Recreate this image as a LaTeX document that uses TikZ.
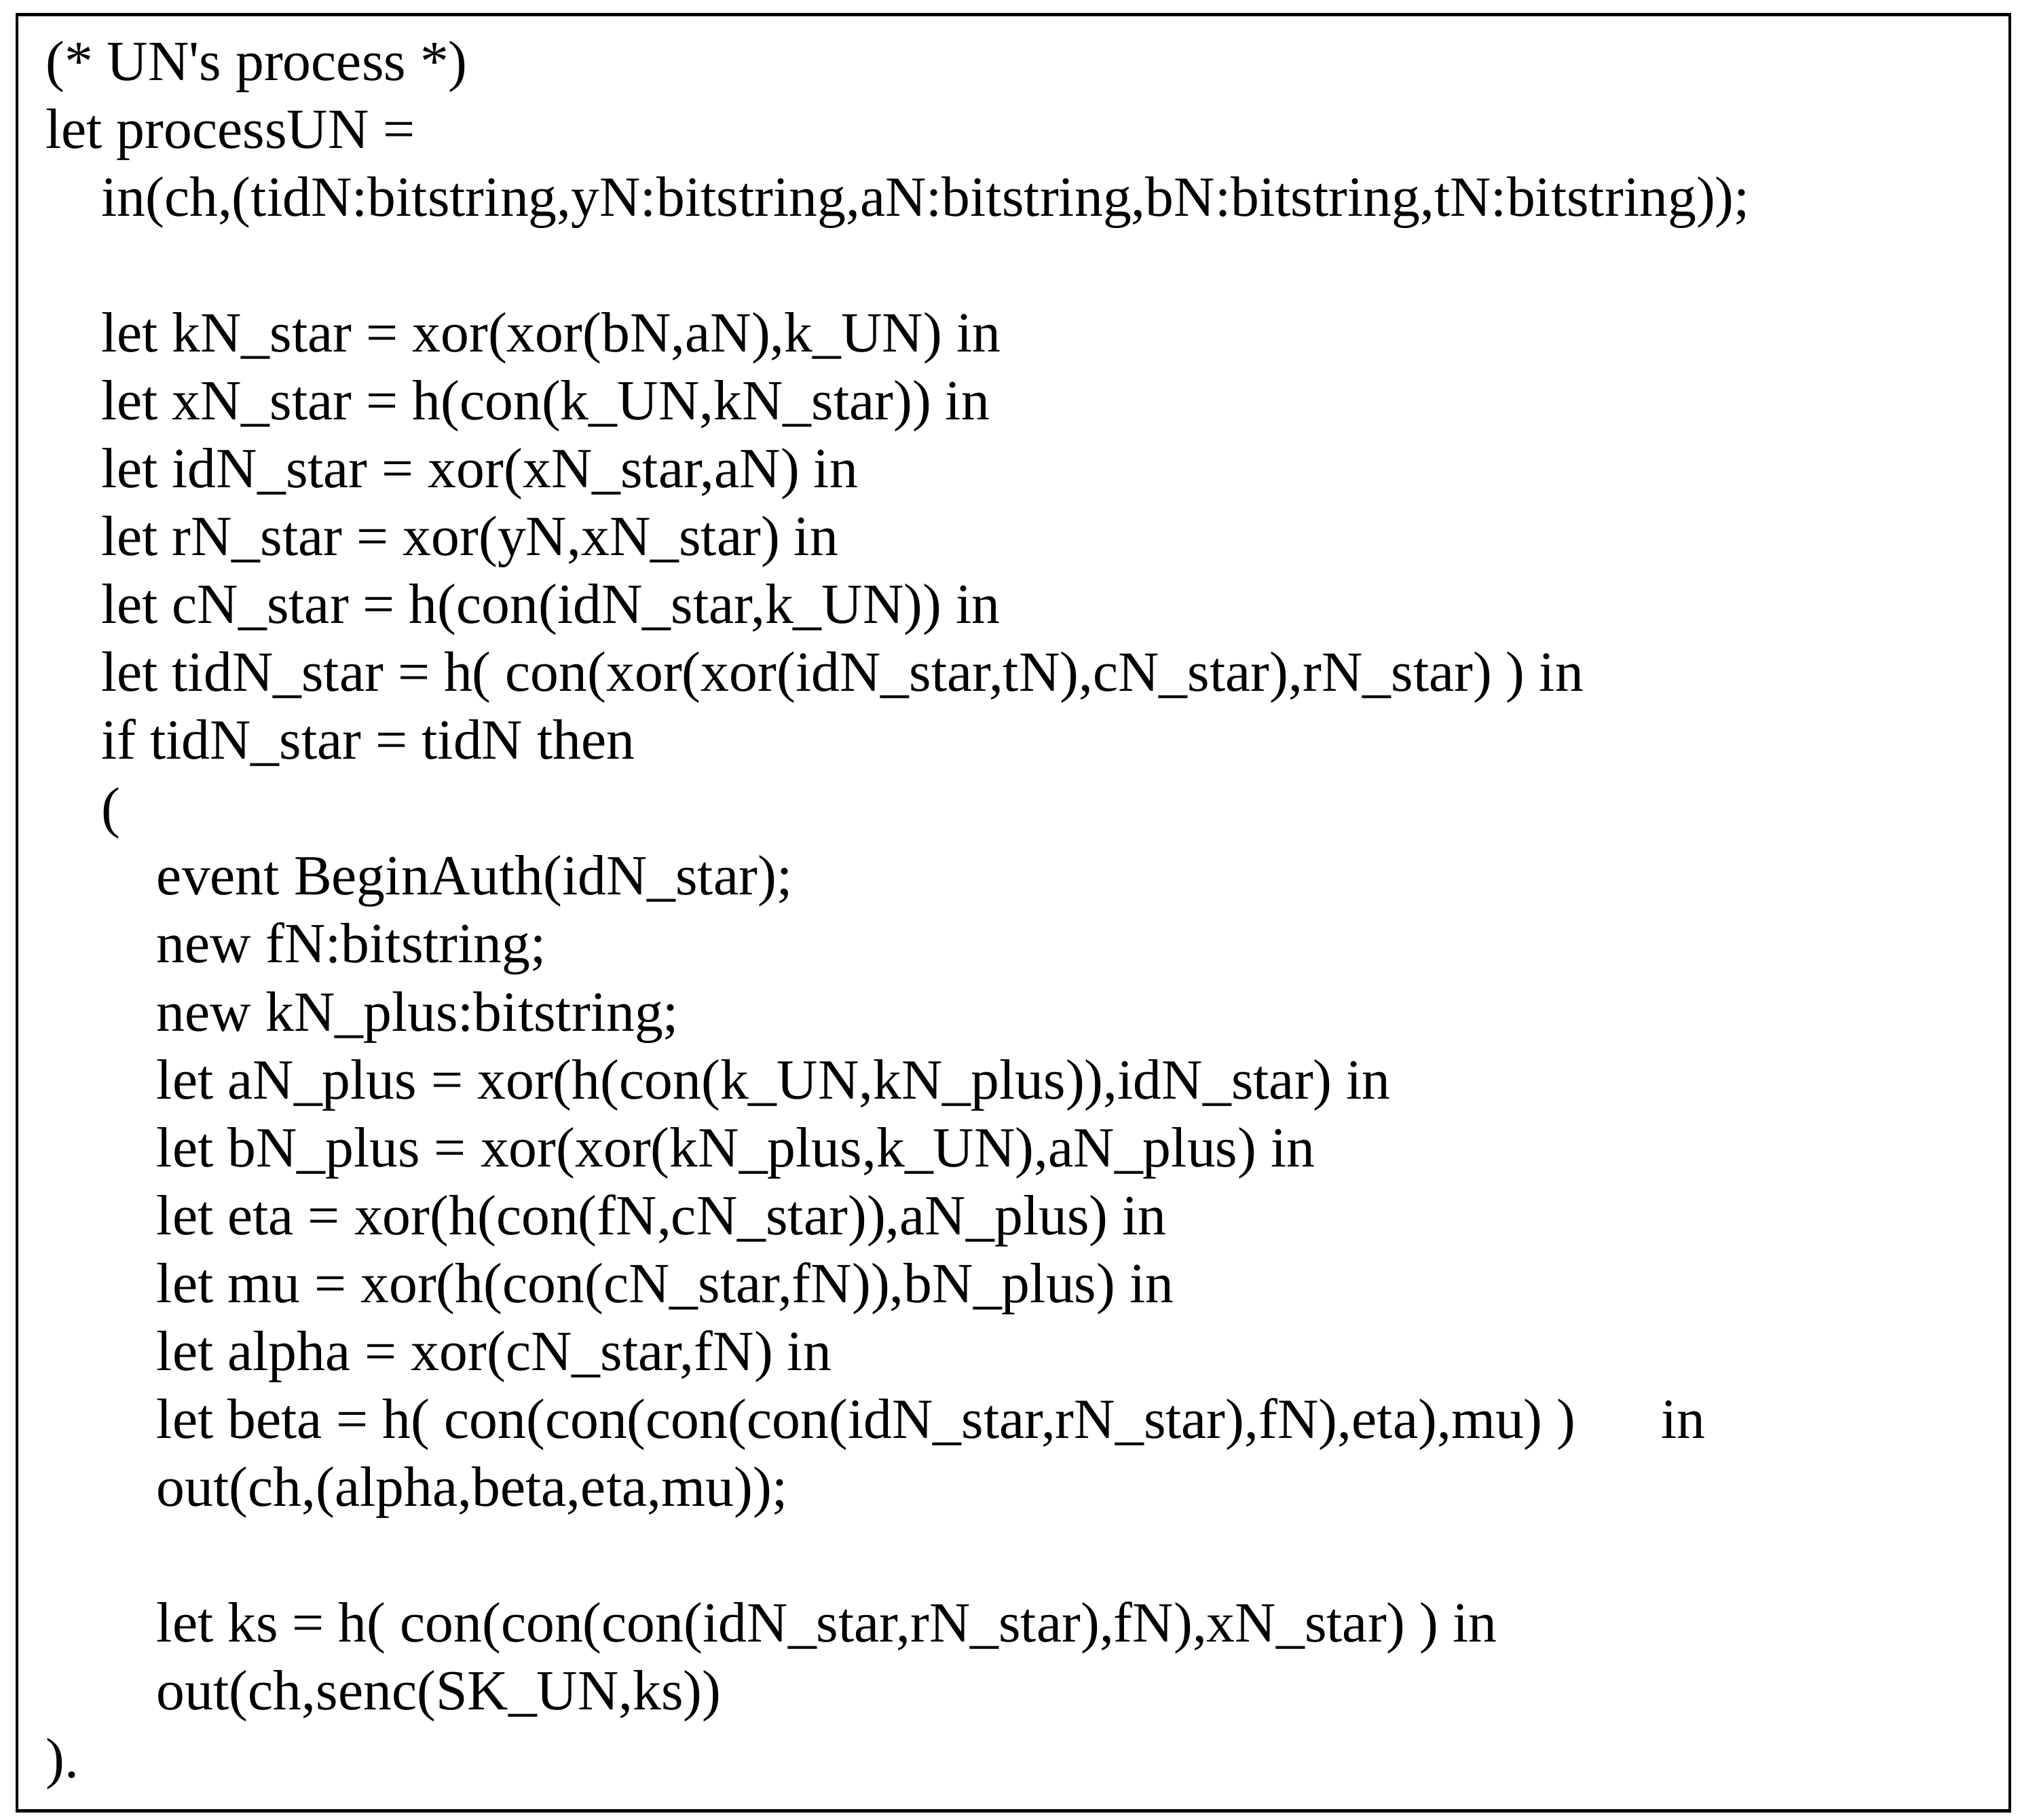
\documentclass[tikz,border=0pt]{standalone}
\usepackage{fontspec}
\setmainfont{Liberation Serif}
\begin{document}
\begin{tikzpicture}[x=0.5pt,y=-0.5pt,
  ln/.style={anchor=west,inner sep=0pt,font=\fontsize{22}{26}\selectfont}]
\useasboundingbox (0,0) rectangle (1565,1410);
\node[draw,line width=1.2pt,minimum width=1544*0.5pt,minimum height=1392*0.5pt,anchor=north west,inner sep=0pt] (box) at (12,10) {};
\def\L#1#2#3{\node[ln] (l#1) at (#2,{52+52.6*(#1)}) {\strut #3};}
\L{0}{35}{(* UN\textquotesingle s process *)}
\L{1}{35}{let processUN =}
\L{2}{78}{in(ch,(tidN:bitstring,yN:bitstring,aN:bitstring,bN:bitstring,tN:bitstring));}
\L{4}{78}{let kN\_star = xor(xor(bN,aN),k\_UN) in}
\L{5}{78}{let xN\_star = h(con(k\_UN,kN\_star)) in}
\L{6}{78}{let idN\_star = xor(xN\_star,aN) in}
\L{7}{78}{let rN\_star = xor(yN,xN\_star) in}
\L{8}{78}{let cN\_star = h(con(idN\_star,k\_UN)) in}
\L{9}{78}{let tidN\_star = h( con(xor(xor(idN\_star,tN),cN\_star),rN\_star) ) in}
\L{10}{78}{if tidN\_star = tidN then}
\L{11}{78}{(}
\L{12}{121}{event BeginAuth(idN\_star);}
\L{13}{121}{new fN:bitstring;}
\L{14}{121}{new kN\_plus:bitstring;}
\L{15}{121}{let aN\_plus = xor(h(con(k\_UN,kN\_plus)),idN\_star) in}
\L{16}{121}{let bN\_plus = xor(xor(kN\_plus,k\_UN),aN\_plus) in}
\L{17}{121}{let eta = xor(h(con(fN,cN\_star)),aN\_plus) in}
\L{18}{121}{let mu = xor(h(con(cN\_star,fN)),bN\_plus) in}
\L{19}{121}{let alpha = xor(cN\_star,fN) in}
\L{20}{121}{let beta = h( con(con(con(con(idN\_star,rN\_star),fN),eta),mu) )\hspace{1.5em}in}
\L{21}{121}{out(ch,(alpha,beta,eta,mu));}
\L{23}{121}{let ks = h( con(con(con(idN\_star,rN\_star),fN),xN\_star) ) in}
\L{24}{121}{out(ch,senc(SK\_UN,ks))}
\L{25}{35}{).}
\end{tikzpicture}
\end{document}
